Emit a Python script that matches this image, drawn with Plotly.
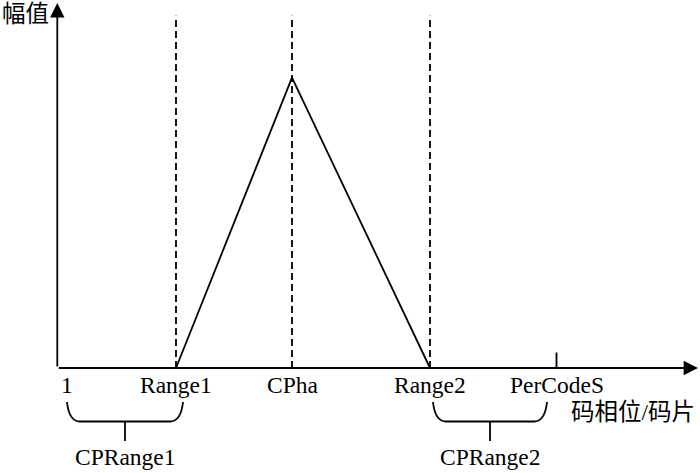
import plotly.graph_objects as go

# ---- data (code phase in chips, amplitude normalised) ----
tick_labels = ["1", "Range1", "CPha", "Range2", "PerCodeS"]
tick_positions = [1.0, 22.8, 46.0, 73.6, 98.9]
peak_x = [22.8, 46.0, 73.6]
peak_y = [0.0, 1.0, 0.0]
dashed_x = [22.8, 46.0, 73.6]
dashed_top = 1.213
brace_labels = ["CPRange1", "CPRange2"]
brace_spans = [(1.0, 24.2), (74.2, 97.0)]
axis_x_end = 127.2
axis_y_end = 1.257
axis_origin = -0.94
x_title = "码相位/码片"
y_title = "幅值"

# pixel -> data helpers for layout only
PX_SCALE = 290.3  # px per amplitude unit
BASE_PX = 368.0


def ypx(py):
    return (BASE_PX - py) / PX_SCALE


FONT = dict(family="Liberation Serif, Noto Sans CJK SC", size=23.5, color="black")

fig = go.Figure()

# triangle correlation peak
fig.add_trace(go.Scatter(x=peak_x, y=peak_y, mode="lines",
                         line=dict(color="black", width=1.8), hoverinfo="skip"))

# dashed vertical lines
for xv in dashed_x:
    fig.add_trace(go.Scatter(x=[xv, xv], y=[0, dashed_top], mode="lines",
                             line=dict(color="black", width=1.8, dash="7px,4px"),
                             hoverinfo="skip"))

# PerCodeS tick
fig.add_trace(go.Scatter(x=[tick_positions[-1], tick_positions[-1]], y=[0, ypx(352.5)],
                         mode="lines", line=dict(color="black", width=1.8), hoverinfo="skip"))

annotations = []
# axes with arrows
annotations.append(dict(x=axis_x_end, y=0, ax=axis_origin, ay=0, xref="x", yref="y",
                        axref="x", ayref="y", showarrow=True, arrowhead=2,
                        arrowsize=1.6, arrowwidth=1.8, arrowcolor="black", text=""))
annotations.append(dict(x=axis_origin, y=axis_y_end, ax=axis_origin, ay=0, xref="x", yref="y",
                        axref="x", ayref="y", showarrow=True, arrowhead=2,
                        arrowsize=1.6, arrowwidth=1.8, arrowcolor="black", text=""))

# tick labels
label_y = ypx(385)
for lab, xv in zip(tick_labels, tick_positions):
    annotations.append(dict(x=xv, y=label_y, text=lab, showarrow=False, font=FONT,
                            xanchor="center", yanchor="middle"))

# axis titles
annotations.append(dict(x=(633 - 62) / 5, y=ypx(412), text=x_title, showarrow=False,
                        font=FONT, xanchor="center", yanchor="middle"))
annotations.append(dict(x=(25.5 - 62) / 5, y=ypx(14), text=y_title, showarrow=False,
                        font=FONT, xanchor="center", yanchor="middle"))

# braces
shapes = []
top, bot, stem = ypx(402), ypx(421.5), ypx(441)
curve = 2.6
for lab, (x0, x1) in zip(brace_labels, brace_spans):
    xm = (x0 + x1) / 2
    path = (f"M {x0},{top} Q {x0 + 0.4},{bot} {x0 + curve},{bot} "
            f"L {x1 - curve},{bot} Q {x1 - 0.4},{bot} {x1},{top}")
    shapes.append(dict(type="path", path=path, xref="x", yref="y",
                       line=dict(color="black", width=1.8)))
    shapes.append(dict(type="line", x0=xm, x1=xm, y0=bot, y1=stem, xref="x", yref="y",
                       line=dict(color="black", width=1.8)))
    annotations.append(dict(x=xm, y=ypx(456.5), text=lab, showarrow=False, font=FONT,
                            xanchor="center", yanchor="middle"))

fig.update_layout(
    width=700, height=473, autosize=False,
    margin=dict(l=0, r=0, t=0, b=0),
    paper_bgcolor="white", plot_bgcolor="white",
    showlegend=False,
    xaxis=dict(range=[(0 - 62) / 5, (700 - 62) / 5], visible=False, fixedrange=True),
    yaxis=dict(range=[ypx(473), ypx(0)], visible=False, fixedrange=True),
    annotations=annotations, shapes=shapes,
)

fig.write_html(
    "out.html",
    config={"displayModeBar": False},
    post_script="document.body.style.margin='0';document.body.style.padding='0';"
                "document.body.style.overflow='hidden';",
)
